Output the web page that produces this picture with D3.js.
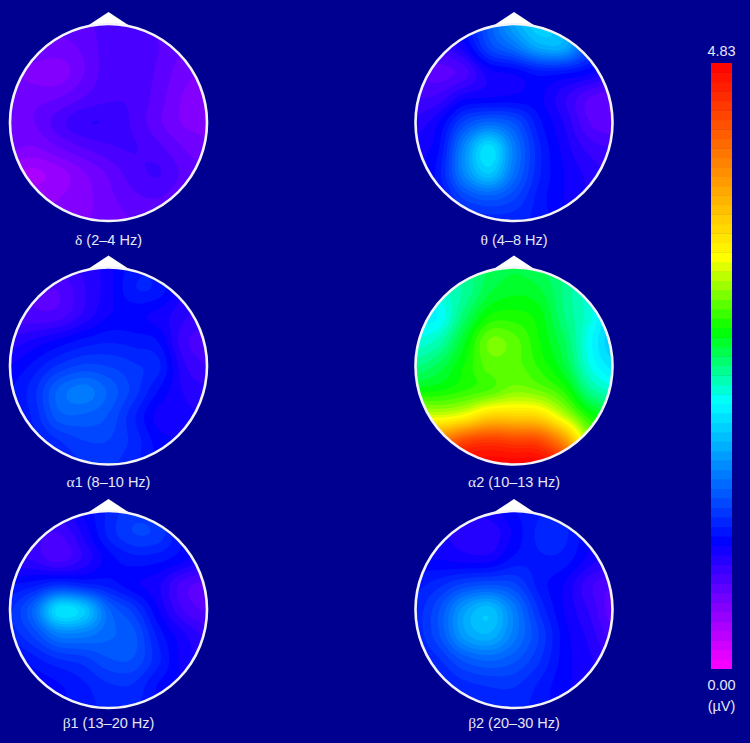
<!DOCTYPE html>
<html><head><meta charset="utf-8">
<style>html,body{margin:0;padding:0;background:#000090}svg{display:block}</style>
<script src="https://cdn.jsdelivr.net/npm/d3@7"></script>
</head><body><div id="chart"></div>
<script>
// Values in µV at 9×9 scalp nodes, rows front → back, columns left → right
const delta = [
[.62,.62,.62,.65,.72,.72,.65,.6,.6],
[.6,.6,.58,.62,.72,.75,.68,.6,.6],
[.55,.5,.48,.6,.72,.75,.66,.56,.52],
[.6,.58,.6,.68,.74,.74,.64,.52,.48],
[.6,.6,.72,.82,.82,.74,.62,.52,.5],
[.55,.52,.6,.68,.74,.76,.7,.6,.55],
[.4,.36,.42,.52,.62,.72,.76,.66,.6],
[.45,.42,.45,.5,.58,.66,.68,.62,.6],
[.5,.5,.5,.52,.56,.6,.62,.6,.6]];
const theta = [
[1,1,1.1,1.4,1.75,1.95,1.75,1.2,1],
[.8,.8,.95,1.3,1.5,1.75,1.75,1.3,1],
[.7,.65,.72,.95,1,1.1,1.08,1,.85],
[.75,.78,.95,.98,1,1,.85,.68,.62],
[.85,.98,1.3,1.45,1.35,1.08,.9,.68,.62],
[.95,1.05,1.6,2,1.55,1.15,.95,.8,.75],
[.95,1.1,1.6,1.9,1.5,1.15,.98,.88,.8],
[.95,1.05,1.3,1.4,1.3,1.1,.98,.9,.85],
[1,1.05,1.1,1.15,1.15,1.1,1,.95,.9]];
const alpha1 = [
[.8,.8,.8,.85,.95,1.1,1.1,.95,.9],
[.7,.7,.68,.82,.95,1.12,1.1,.9,.85],
[.72,.7,.72,.85,.98,1,.95,.85,.78],
[.85,.92,1,1.08,1.12,1.1,1.05,.78,.72],
[.98,1.08,1.22,1.3,1.28,1.22,1.15,.85,.75],
[1.05,1.18,1.45,1.55,1.42,1.25,1.05,.9,.85],
[1.05,1.15,1.4,1.42,1.35,1.15,.95,.93,.9],
[1.05,1.1,1.2,1.28,1.28,1.18,1.02,.98,.95],
[1.05,1.1,1.15,1.2,1.22,1.15,1.05,1,1]];
const alpha2 = [
[2.35,2.35,2.4,2.5,2.55,2.5,2.4,2.2,2],
[2.25,2.25,2.35,2.55,2.62,2.58,2.4,2.2,2],
[2.1,2.12,2.45,2.72,2.75,2.68,2.42,2.22,1.95],
[2.2,2.3,2.62,2.95,2.9,2.72,2.5,2.15,1.88],
[2.4,2.52,2.72,2.9,2.9,2.78,2.58,2.2,2],
[2.7,2.72,2.8,2.88,3,2.95,2.78,2.4,2.25],
[3.25,3.2,3.3,3.55,3.55,3.5,3.15,2.75,2.6],
[4.2,4.1,4.4,4.5,4.45,4.4,3.95,3.1,2.9],
[4.83,4.83,4.83,4.83,4.83,4.83,4.6,3.6,3]];
const beta1 = [
[1.05,.95,.9,1,1.15,1.25,1.2,1.05,1],
[.85,.8,.75,.92,1.15,1.28,1.25,1.05,1],
[.85,.82,.72,.85,1.02,1.1,1.08,1,.88],
[1.05,1.1,1.2,1.15,1.1,1,.92,.72,.65],
[1.18,1.45,2,1.9,1.45,1.25,.98,.75,.66],
[1.15,1.3,1.55,1.55,1.45,1.38,1.1,.92,.8],
[1,1.1,1.2,1.25,1.35,1.35,1.15,.95,.9],
[.95,1,1.05,1.12,1.2,1.2,1.05,.98,.95],
[.95,1,1.05,1.1,1.15,1.15,1.05,1,.95]];
const beta2 = [
[1,.95,.92,.95,1.05,1.12,1.12,1,.95],
[.95,.92,.88,.85,1,1.15,1.15,1,.92],
[1,.98,.95,.95,1.08,1.12,1.1,.95,.85],
[1.1,1.18,1.3,1.35,1.3,1.1,.98,.78,.68],
[1.15,1.35,1.7,1.85,1.55,1.2,.98,.82,.62],
[1.15,1.35,1.7,1.8,1.55,1.28,1.02,.88,.7],
[1.1,1.2,1.38,1.45,1.38,1.22,1.02,.92,.82],
[1.05,1.1,1.18,1.22,1.22,1.12,1,.95,.9],
[1,1.05,1.1,1.15,1.15,1.1,1,.95,.9]];
const bandGrids = [delta, theta, alpha1, alpha2, beta1, beta2];
const bandSymbols = ["δ","θ","α1","α2","β1","β2"];
const bandRanges = [" (2–4 Hz)"," (4–8 Hz)"," (8–10 Hz)"," (10–13 Hz)"," (13–20 Hz)"," (20–30 Hz)"];
const valueMin = 0, valueMax = 4.83;
const colorStops = [0,1.01,2.13,2.7,3.28,4.83];
const colorValues = ["#ff00ff","#0000ff","#00ffff","#00ff00","#ffff00","#ff0000"];
const scaleLabels = ["4.83","0.00","(µV)"];

const W = 750, H = 743;
const svg = d3.select("#chart").append("svg").attr("width",W).attr("height",H);
svg.append("rect").attr("width",W).attr("height",H).attr("fill","#000090");
const color = d3.scaleLinear().domain(colorStops).range(colorValues).clamp(true);

const levels = 64;
const step = (valueMax-valueMin)/levels;
const thresholds = d3.range(levels).map(i=>valueMin+i*step);

// Catmull-Rom sampling of a node grid, used only for smooth rendering
function cr(p0,p1,p2,p3,t){return .5*(2*p1+(p2-p0)*t+(2*p0-5*p1+4*p2-p3)*t*t+(3*p1-p0-3*p2+p3)*t*t*t);}
function sample(g,N){
  const n=g.length, out=new Float64Array(N*N);
  const at=(r,c)=>g[Math.max(0,Math.min(n-1,r))][Math.max(0,Math.min(n-1,c))];
  for(let j=0;j<N;j++){
    const y=j/(N-1)*(n-1), r=Math.min(n-2,Math.floor(y)), ty=y-r;
    for(let i=0;i<N;i++){
      const x=i/(N-1)*(n-1), c=Math.min(n-2,Math.floor(x)), tx=x-c;
      const col=[-1,0,1,2].map(d=>cr(at(r+d,c-1),at(r+d,c),at(r+d,c+1),at(r+d,c+2),tx));
      out[j*N+i]=cr(col[0],col[1],col[2],col[3],ty);
    }
  }
  return out;
}
const N=130;
const contours=d3.contours().size([N,N]).thresholds(thresholds);
const cols=[108.5,514], rows=[122.5,366,609.5], headR=98.5;
const defs=svg.append("defs");
const headPos=d3.scaleLinear().domain([0,N]).range([-101,101]);
const path=d3.geoPath(d3.geoTransform({point(x,y){this.stream.point(headPos(x),headPos(y));}}));

bandGrids.forEach((g,i)=>{
  const cx=cols[i%2], cy=rows[Math.floor(i/2)];
  const head=svg.append("g").attr("transform",`translate(${cx},${cy})`);
  // nose
  head.append("path").attr("fill","#fff")
    .attr("d",d3.line().curve(d3.curveLinear)([[-22,-96],[0,-110.5],[22,-96]])+"Z");
  const id="clip"+i;
  defs.append("clipPath").attr("id",id).append("circle").attr("r",headR);
  const data=sample(g,N);
  head.append("g").attr("clip-path",`url(#${id})`)
    .selectAll("path").data(contours(data)).join("path")
    .attr("d",path).attr("fill",d=>color(d.value+step/2));
  head.append("circle").attr("r",headR).attr("fill","none").attr("stroke","#f4f4f8").attr("stroke-width",2.6);
  const t=svg.append("text").attr("x",cx).attr("y",cy+(i<2?122.5:i<4?121:118.5))
    .attr("text-anchor","middle").attr("fill","#e6e6f4")
    .attr("font-family","Liberation Sans").attr("font-size",14.5);
  const sym=bandSymbols[i];
  t.append("tspan").attr("font-family","Liberation Serif").attr("font-size",15.5).text(sym[0]);
  t.append("tspan").text(sym.slice(1)+bandRanges[i]);
});

// colour bar
const barY=d3.scaleLinear().domain([valueMin,valueMax]).range([668.5,63]);
svg.append("g").selectAll("rect").data(thresholds).join("rect")
  .attr("x",711).attr("width",21)
  .attr("y",d=>barY(d+step)).attr("height",d=>barY(d)-barY(d+step)+.5)
  .attr("fill",d=>color(d+step/2));
const labelY=[56,690,711];
svg.append("g").selectAll("text").data(scaleLabels).join("text")
  .attr("x",721.5).attr("y",(d,i)=>labelY[i]).attr("text-anchor","middle")
  .attr("fill","#e6e6f4").attr("font-family","Liberation Sans").attr("font-size",14.5)
  .text(d=>d);
</script></body></html>
